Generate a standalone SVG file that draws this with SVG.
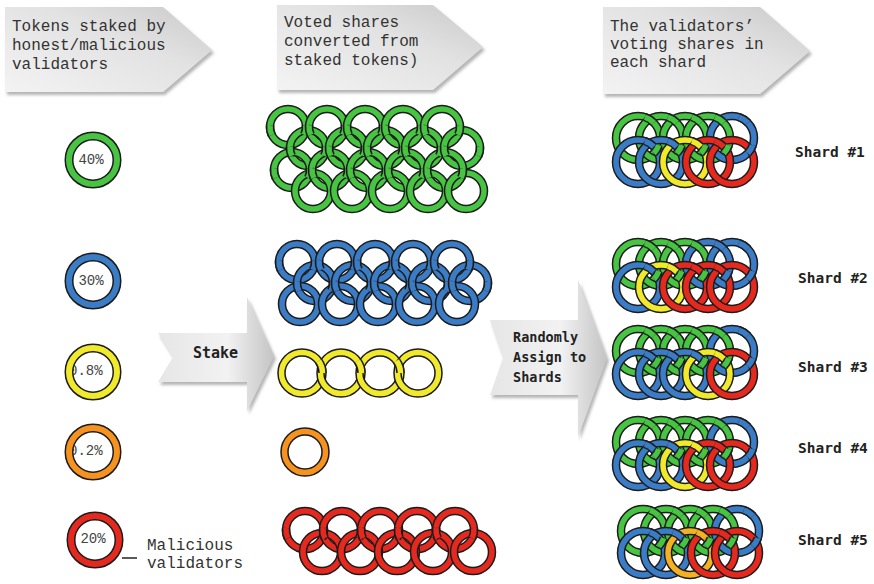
<svg xmlns="http://www.w3.org/2000/svg" width="874" height="584" viewBox="0 0 874 584">
<defs>
<style>
.hd{font-family:"Liberation Mono","DejaVu Sans Mono",monospace;font-size:16px;fill:#333}
.pc{font-family:"Liberation Mono","DejaVu Sans Mono",monospace;font-size:14px;fill:#444}
.lb{font-family:"DejaVu Sans Mono",monospace;font-weight:bold;fill:#222}
.ol{fill:none;stroke:#1c1c1c}
.cl{fill:none;stroke:currentColor}
.g{color:#46c442}.b{color:#3b7cc6}.y{color:#f1ea2c}.o{color:#f6921f}.r{color:#e5291f}.a{color:#f4b124}
</style>
<linearGradient id="hg" x1="0" y1="1" x2="1" y2="0">
<stop offset="0" stop-color="#f3f3f3"/><stop offset="0.6" stop-color="#e2e2e2"/><stop offset="1" stop-color="#c9c9c9"/>
</linearGradient>
<linearGradient id="ag" x1="0" y1="0" x2="1" y2="0">
<stop offset="0" stop-color="#e6e6e6"/><stop offset="0.6" stop-color="#f2f2f2"/><stop offset="1" stop-color="#c4c4c4"/>
</linearGradient>
<filter id="sh" x="-10%" y="-10%" width="125%" height="130%">
<feDropShadow dx="2" dy="3" stdDeviation="1.5" flood-color="#777" flood-opacity="0.55"/>
</filter>
<g id="rL"><circle r="24" class="ol" stroke-width="9"/><circle r="24" class="cl" stroke-width="6"/></g>
<g id="rM"><circle r="18" class="ol" stroke-width="8.5"/><circle r="18" class="cl" stroke-width="5.5"/></g>
<g id="rY"><circle r="20.5" class="ol" stroke-width="8.5"/><circle r="20.5" class="cl" stroke-width="5.5"/></g>
<g id="rR"><circle r="19" class="ol" stroke-width="8.5"/><circle r="19" class="cl" stroke-width="5.5"/></g>
<g id="rS"><circle r="22" class="ol" stroke-width="8.5"/><circle r="22" class="cl" stroke-width="5.5"/></g>
<path id="pM" d="M17.9,-1.88A18,18 0 0 1 16.18,7.89M-16.18,7.89A18,18 0 0 1 -17.9,-1.88"/>
<path id="pR" d="M18.9,-1.99A19,19 0 0 1 17.08,8.33M-17.08,8.33A19,19 0 0 1 -18.9,-1.99"/>
<path id="pY" d="M16.58,-12.05A20.5,20.5 0 0 1 20.5,0"/>
<path id="pT" d="M6.8,-20.92A22,22 0 0 1 15.83,-15.28M20.8,7.16A22,22 0 0 1 15.83,15.28"/>
<path id="pB" d="M6.8,-20.92A22,22 0 0 1 15.83,-15.28"/>
<g id="oM"><use href="#pM" class="ol" stroke-width="8.5"/><use href="#pM" class="cl" stroke-width="5.5"/></g>
<g id="oR"><use href="#pR" class="ol" stroke-width="8.5"/><use href="#pR" class="cl" stroke-width="5.5"/></g>
<g id="oY"><use href="#pY" class="ol" stroke-width="8.5"/><use href="#pY" class="cl" stroke-width="5.5"/></g>
<g id="oT"><use href="#pT" class="ol" stroke-width="8.5"/><use href="#pT" class="cl" stroke-width="5.5"/></g>
<g id="oB"><use href="#pB" class="ol" stroke-width="8.5"/><use href="#pB" class="cl" stroke-width="5.5"/></g>
</defs>
<rect width="874" height="584" fill="#fff"/>

<g id="header1">
<polygon points="5,7 163,7 212,50 163,92 5,92" fill="url(#hg)" filter="url(#sh)"/>
<text class="hd" x="12" y="31">Tokens staked by</text>
<text class="hd" x="12" y="50">honest/malicious</text>
<text class="hd" x="12" y="69">validators</text>
</g>
<g id="header2">
<polygon points="277,5 433,5 483,47 433,90 277,90" fill="url(#hg)" filter="url(#sh)"/>
<text class="hd" x="284" y="27">Voted shares</text>
<text class="hd" x="284" y="46">converted from</text>
<text class="hd" x="284" y="65">staked tokens)</text>
</g>
<g id="header3">
<polygon points="603,7 760,7 810,51 760,94 603,94" fill="url(#hg)" filter="url(#sh)"/>
<text class="hd" x="610" y="31">The validators’</text>
<text class="hd" x="610" y="49">voting shares in</text>
<text class="hd" x="610" y="67">each shard</text>
</g>

<g id="token40"><text class="pc" x="91" y="164" text-anchor="middle">40%</text><use href="#rL" x="93" y="160" class="g"/></g>
<g id="token30"><text class="pc" x="91" y="285" text-anchor="middle">30%</text><use href="#rL" x="93" y="281" class="b"/></g>
<g id="token08"><text class="pc" x="69" y="375">0.8%</text><use href="#rL" x="93" y="372" class="y"/></g>
<g id="token02"><text class="pc" x="69" y="455">0.2%</text><use href="#rL" x="93" y="452" class="o"/></g>
<g id="token20"><text class="pc" x="93" y="543" text-anchor="middle">20%</text><use href="#rL" x="95" y="540" class="r"/></g>
<g id="malicious-label">
<text class="hd" x="147" y="550">Malicious</text>
<text class="hd" x="147" y="568">validators</text>
</g>

<g id="stake-arrow">
<polygon points="158,333 247,333 247,297 274,356 247,411 247,382 158,382 173,357" fill="url(#ag)" filter="url(#sh)"/>
<text class="lb" x="193" y="358" font-size="15">Stake</text>
</g>
<g id="assign-arrow">
<polygon points="490,320 578,320 578,280 607,358 578,437 578,395 490,395 503,358" fill="url(#ag)" filter="url(#sh)"/>
<text class="lb" x="513" y="342" font-size="13.5">Randomly</text>
<text class="lb" x="513" y="362" font-size="13.5">Assign to</text>
<text class="lb" x="513" y="382" font-size="13.5">Shards</text>
</g>

<g id="shares-green" class="g">
<use href="#rM" x="288" y="127"/><use href="#rM" x="327" y="127"/><use href="#rM" x="365" y="127"/><use href="#rM" x="403" y="127"/><use href="#rM" x="442" y="127"/>
<use href="#rM" x="308" y="148"/><use href="#rM" x="347" y="148"/><use href="#rM" x="385" y="148"/><use href="#rM" x="423" y="148"/><use href="#rM" x="462" y="148"/>
<use href="#rM" x="292" y="170"/><use href="#rM" x="330" y="170"/><use href="#rM" x="368" y="170"/><use href="#rM" x="406" y="170"/><use href="#rM" x="445" y="170"/>
<use href="#rM" x="313" y="191"/><use href="#rM" x="352" y="191"/><use href="#rM" x="390" y="191"/><use href="#rM" x="428" y="191"/><use href="#rM" x="466" y="191"/>
<use href="#oM" x="288" y="127"/><use href="#oM" x="327" y="127"/><use href="#oM" x="365" y="127"/><use href="#oM" x="403" y="127"/><use href="#oM" x="442" y="127"/>
<use href="#oM" x="308" y="148"/><use href="#oM" x="347" y="148"/><use href="#oM" x="385" y="148"/><use href="#oM" x="423" y="148"/><use href="#oM" x="462" y="148"/>
<use href="#oM" x="292" y="170"/><use href="#oM" x="330" y="170"/><use href="#oM" x="368" y="170"/><use href="#oM" x="406" y="170"/><use href="#oM" x="445" y="170"/>
</g>
<g id="shares-blue" class="b">
<use href="#rM" x="297" y="262"/><use href="#rM" x="337" y="262"/><use href="#rM" x="375" y="262"/><use href="#rM" x="413" y="262"/><use href="#rM" x="452" y="262"/>
<use href="#rM" x="315" y="283"/><use href="#rM" x="353" y="283"/><use href="#rM" x="392" y="283"/><use href="#rM" x="430" y="283"/><use href="#rM" x="470" y="283"/>
<use href="#rM" x="300" y="304"/><use href="#rM" x="340" y="304"/><use href="#rM" x="378" y="304"/><use href="#rM" x="417" y="304"/><use href="#rM" x="457" y="304"/>
<use href="#oM" x="297" y="262"/><use href="#oM" x="337" y="262"/><use href="#oM" x="375" y="262"/><use href="#oM" x="413" y="262"/><use href="#oM" x="452" y="262"/>
<use href="#oM" x="315" y="283"/><use href="#oM" x="353" y="283"/><use href="#oM" x="392" y="283"/><use href="#oM" x="430" y="283"/><use href="#oM" x="470" y="283"/>
</g>
<g id="shares-yellow" class="y">
<use href="#rY" x="302" y="373"/><use href="#rY" x="341" y="373"/><use href="#rY" x="380" y="373"/><use href="#rY" x="418" y="373"/>
<use href="#oY" x="302" y="373"/><use href="#oY" x="341" y="373"/><use href="#oY" x="380" y="373"/>
</g>
<g id="shares-orange" class="o"><use href="#rY" x="305" y="452"/></g>
<g id="shares-red" class="r">
<use href="#rR" x="305" y="530"/><use href="#rR" x="342" y="530"/><use href="#rR" x="380" y="530"/><use href="#rR" x="417" y="530"/><use href="#rR" x="455" y="530"/>
<use href="#rR" x="322" y="552"/><use href="#rR" x="360" y="552"/><use href="#rR" x="397" y="552"/><use href="#rR" x="433" y="552"/><use href="#rR" x="473" y="552"/>
<use href="#oR" x="305" y="530"/><use href="#oR" x="342" y="530"/><use href="#oR" x="380" y="530"/><use href="#oR" x="417" y="530"/><use href="#oR" x="455" y="530"/>
</g>

<g id="shard1">
<use href="#rS" x="638" y="138" class="g"/><use href="#rS" x="661" y="138" class="g"/><use href="#rS" x="685" y="138" class="g"/><use href="#rS" x="708" y="138" class="g"/><use href="#rS" x="732" y="138" class="b"/>
<use href="#rS" x="638" y="162" class="b"/><use href="#rS" x="661" y="162" class="b"/><use href="#rS" x="685" y="162" class="y"/><use href="#rS" x="708" y="162" class="r"/><use href="#rS" x="732" y="162" class="r"/>
<use href="#oT" x="638" y="138" class="g"/><use href="#oT" x="661" y="138" class="g"/><use href="#oT" x="685" y="138" class="g"/><use href="#oT" x="708" y="138" class="g"/><use href="#oT" x="732" y="138" class="b"/>
<use href="#oB" x="638" y="162" class="b"/><use href="#oB" x="661" y="162" class="b"/><use href="#oB" x="685" y="162" class="y"/><use href="#oB" x="708" y="162" class="r"/>
<text class="lb" x="795" y="157" font-size="14.5">Shard #1</text>
</g>
<g id="shard2">
<use href="#rS" x="638" y="264" class="g"/><use href="#rS" x="661" y="264" class="g"/><use href="#rS" x="685" y="264" class="g"/><use href="#rS" x="708" y="264" class="b"/><use href="#rS" x="732" y="264" class="b"/>
<use href="#rS" x="638" y="287" class="b"/><use href="#rS" x="661" y="287" class="y"/><use href="#rS" x="685" y="287" class="r"/><use href="#rS" x="708" y="287" class="r"/><use href="#rS" x="732" y="287" class="r"/>
<use href="#oT" x="638" y="264" class="g"/><use href="#oT" x="661" y="264" class="g"/><use href="#oT" x="685" y="264" class="g"/><use href="#oT" x="708" y="264" class="b"/><use href="#oT" x="732" y="264" class="b"/>
<use href="#oB" x="638" y="287" class="b"/><use href="#oB" x="661" y="287" class="y"/><use href="#oB" x="685" y="287" class="r"/><use href="#oB" x="708" y="287" class="r"/>
<text class="lb" x="798" y="283" font-size="14.5">Shard #2</text>
</g>
<g id="shard3">
<use href="#rS" x="638" y="351" class="g"/><use href="#rS" x="661" y="351" class="g"/><use href="#rS" x="685" y="351" class="g"/><use href="#rS" x="708" y="351" class="g"/><use href="#rS" x="732" y="351" class="b"/>
<use href="#rS" x="638" y="374" class="b"/><use href="#rS" x="661" y="374" class="b"/><use href="#rS" x="685" y="374" class="b"/><use href="#rS" x="708" y="374" class="y"/><use href="#rS" x="732" y="374" class="r"/>
<use href="#oT" x="638" y="351" class="g"/><use href="#oT" x="661" y="351" class="g"/><use href="#oT" x="685" y="351" class="g"/><use href="#oT" x="708" y="351" class="g"/><use href="#oT" x="732" y="351" class="b"/>
<use href="#oB" x="638" y="374" class="b"/><use href="#oB" x="661" y="374" class="b"/><use href="#oB" x="685" y="374" class="b"/><use href="#oB" x="708" y="374" class="y"/>
<text class="lb" x="798" y="372" font-size="14.5">Shard #3</text>
</g>
<g id="shard4">
<use href="#rS" x="638" y="442" class="g"/><use href="#rS" x="661" y="442" class="g"/><use href="#rS" x="685" y="442" class="g"/><use href="#rS" x="708" y="442" class="g"/><use href="#rS" x="732" y="442" class="b"/>
<use href="#rS" x="638" y="465" class="b"/><use href="#rS" x="661" y="465" class="b"/><use href="#rS" x="685" y="465" class="y"/><use href="#rS" x="708" y="465" class="r"/><use href="#rS" x="732" y="465" class="r"/>
<use href="#oT" x="638" y="442" class="g"/><use href="#oT" x="661" y="442" class="g"/><use href="#oT" x="685" y="442" class="g"/><use href="#oT" x="708" y="442" class="g"/><use href="#oT" x="732" y="442" class="b"/>
<use href="#oB" x="638" y="465" class="b"/><use href="#oB" x="661" y="465" class="b"/><use href="#oB" x="685" y="465" class="y"/><use href="#oB" x="708" y="465" class="r"/>
<text class="lb" x="798" y="453" font-size="14.5">Shard #4</text>
</g>
<g id="shard5">
<use href="#rS" x="643" y="531" class="g"/><use href="#rS" x="666" y="531" class="g"/><use href="#rS" x="690" y="531" class="g"/><use href="#rS" x="713" y="531" class="g"/><use href="#rS" x="737" y="531" class="b"/>
<use href="#rS" x="643" y="553" class="b"/><use href="#rS" x="666" y="553" class="b"/><use href="#rS" x="690" y="553" class="a"/><use href="#rS" x="713" y="553" class="r"/><use href="#rS" x="737" y="553" class="r"/>
<use href="#oT" x="643" y="531" class="g"/><use href="#oT" x="666" y="531" class="g"/><use href="#oT" x="690" y="531" class="g"/><use href="#oT" x="713" y="531" class="g"/><use href="#oT" x="737" y="531" class="b"/>
<use href="#oB" x="643" y="553" class="b"/><use href="#oB" x="666" y="553" class="b"/><use href="#oB" x="690" y="553" class="a"/><use href="#oB" x="713" y="553" class="r"/>
<text class="lb" x="798" y="545" font-size="14.5">Shard #5</text>
</g>

<g id="connectors">
<line x1="122" y1="558" x2="137" y2="558" stroke="#222" stroke-width="1.5"/>
</g>
</svg>
